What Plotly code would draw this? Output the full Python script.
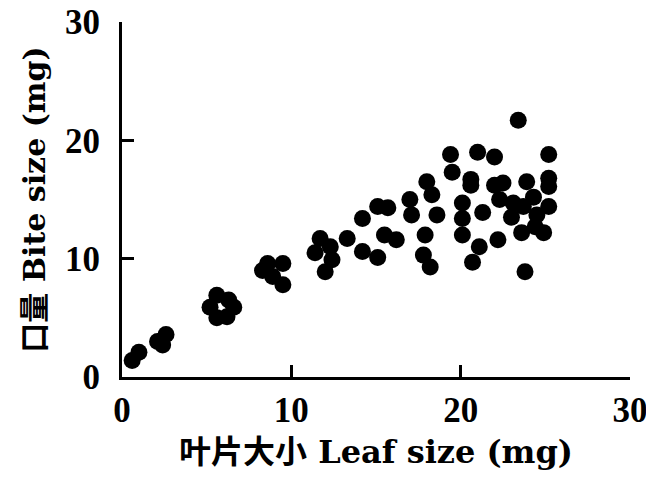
import plotly.graph_objects as go

leaf_size = [0.6, 1.0, 2.1, 2.6, 2.4,
             5.6, 6.3, 5.2, 6.6, 5.6, 6.2,
             8.6, 9.5, 8.9, 9.5, 8.3,
             11.7, 11.4, 12.0, 12.4, 12.3, 13.3, 14.2, 15.1, 15.5, 16.2,
             14.2, 15.1, 15.7, 17.0, 17.1, 18.0, 18.3, 18.6, 17.9, 17.8, 18.2,
             19.4, 19.5, 21.0, 22.0, 23.4, 25.2, 20.6, 22.0, 23.9, 25.2,
             20.1, 21.3, 20.1, 20.1, 22.3, 23.1, 23.0, 24.3, 24.5, 25.2,
             23.6, 24.9, 22.2, 21.1, 20.7, 23.8, 20.6, 22.5, 23.7, 25.2, 24.4]
bite_size = [1.4, 2.1, 3.0, 3.6, 2.7,
             6.9, 6.5, 5.9, 5.9, 5.0, 5.1,
             9.6, 9.6, 8.5, 7.8, 9.0,
             11.7, 10.5, 8.9, 9.9, 11.0, 11.7, 10.6, 10.1, 12.0, 11.6,
             13.4, 14.4, 14.3, 15.0, 13.7, 16.5, 15.4, 13.7, 12.0, 10.3, 9.3,
             18.8, 17.3, 19.0, 18.6, 21.7, 18.8, 16.7, 16.2, 16.5, 16.8,
             14.7, 13.9, 13.4, 12.0, 15.0, 14.7, 13.5, 15.2, 13.7, 14.4,
             12.2, 12.2, 11.6, 11.0, 9.7, 8.9, 16.2, 16.4, 14.4, 16.1, 12.7]

tick_vals = [0, 10, 20, 30]
tick_text = ["0", "10", "20", "30"]
x_title = "叶片大小 Leaf size (mg)"
y_title = "口量 Bite size (mg)"

fig = go.Figure(go.Scatter(
    x=leaf_size, y=bite_size, mode="markers",
    marker=dict(color="black", size=17, line=dict(width=0)),
    cliponaxis=False, showlegend=False))

tick_font = dict(family="Liberation Serif", size=35, color="black", weight="bold")
axis_common = dict(
    range=[0, 30], tickvals=tick_vals, ticktext=tick_text,
    showgrid=False, zeroline=False, showline=True, linecolor="black", linewidth=3,
    ticks="inside", ticklen=12, tickwidth=3, tickcolor="black",
    tickfont=tick_font, ticklabeloverflow="allow", automargin=False)

fig.update_xaxes(**axis_common, ticklabelstandoff=0,
                 title=dict(text=x_title, standoff=12,
                            font=dict(family="DejaVu Serif, Noto Sans CJK SC", size=32,
                                      color="black", weight="bold")))
fig.update_yaxes(**axis_common, ticklabelstandoff=12,
                 title=dict(text=y_title, standoff=11,
                            font=dict(family="DejaVu Serif, Noto Sans CJK SC", size=30,
                                      color="black", weight="bold")))

fig.update_layout(
    width=646, height=477,
    margin=dict(l=122, r=16, t=22, b=100),
    plot_bgcolor="white", paper_bgcolor="white")

fig.write_html("out.html")
